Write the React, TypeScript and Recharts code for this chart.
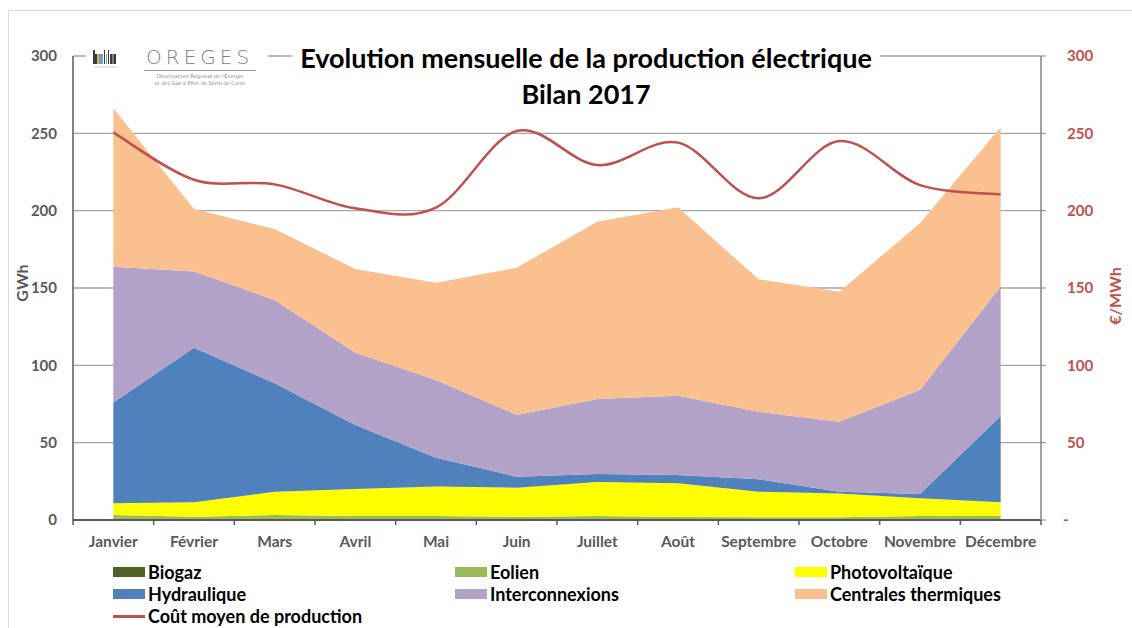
import React from "react";
import { ComposedChart, Area, Line, XAxis, YAxis, CartesianGrid, Legend } from "recharts";

// Bilan 2017 - production électrique mensuelle (GWh) et coût moyen (€/MWh)
const months = ["Janvier", "Février", "Mars", "Avril", "Mai", "Juin", "Juillet", "Août", "Septembre", "Octobre", "Novembre", "Décembre"];
const biogaz = [0.5, 0.4, 0.5, 0.5, 0.5, 0.4, 0.5, 0.4, 0.4, 0.4, 0.5, 0.5];
const eolien = [2.7, 1.7, 2.7, 2.1, 2.1, 1.6, 2.1, 1.6, 1.3, 1.3, 2.1, 2.1];
const photovoltaique = [7.6, 9.3, 15.1, 17.4, 19.0, 18.9, 22.0, 21.7, 16.6, 15.5, 11.4, 8.8];
const hydraulique = [65.1, 100, 70.1, 41.4, 18.7, 7.1, 5.1, 5.4, 8.0, 1.1, 2.8, 55.8];
const interconnexions = [87.9, 49.2, 53.8, 46.8, 50.2, 39.9, 48.5, 51.3, 43.7, 45.3, 67.2, 83.7];
const thermiques = [102.4, 40.4, 45.9, 54.1, 62.9, 95.2, 114.7, 121.8, 85.6, 84, 107.8, 103];
const coutMoyen = [250.6, 220, 217, 201.5, 202, 251.5, 229.5, 244, 208, 245, 216.5, 210.5];
const yTicks = [0, 50, 100, 150, 200, 250, 300];

const areaKeys = ["biogaz", "eolien", "pv", "hydro", "interco", "thermique"];
const areaNames = ["Biogaz", "Eolien", "Photovoltaïque", "Hydraulique", "Interconnexions", "Centrales thermiques"];
const areaColors = ["#4f6228", "#9bbb59", "#ffff00", "#4f81bd", "#b2a2c7", "#fac090"];
const costName = "Coût moyen de production";
const costColor = "#c0504d";

const data = months.map((m, i) => ({
  month: m,
  biogaz: biogaz[i],
  eolien: eolien[i],
  pv: photovoltaique[i],
  hydro: hydraulique[i],
  interco: interconnexions[i],
  thermique: thermiques[i],
  cost: coutMoyen[i],
}));

const W = 1132;
const H = 628;
const PLOT_LEFT = 73;
const PLOT_RIGHT = 1041;
const PLOT_BOTTOM = 520;
const BAND = (PLOT_RIGHT - PLOT_LEFT) / months.length;
const FONT = "Lato, 'Open Sans', sans-serif";
const GREY = "#595959";

// Excel-like smoothed line (Catmull-Rom through the points)
const smoothCurve = (ctx: any) => {
  let pts: number[][] = [];
  return {
    areaStart() {},
    areaEnd() {},
    lineStart() {
      pts = [];
    },
    point(x: number, y: number) {
      pts.push([+x, +y]);
    },
    lineEnd() {
      if (!pts.length) return;
      ctx.moveTo(pts[0][0], pts[0][1]);
      for (let i = 0; i < pts.length - 1; i++) {
        const p0 = pts[Math.max(i - 1, 0)];
        const p1 = pts[i];
        const p2 = pts[i + 1];
        const p3 = pts[Math.min(i + 2, pts.length - 1)];
        ctx.bezierCurveTo(
          p1[0] + (p2[0] - p0[0]) / 6,
          p1[1] + (p2[1] - p0[1]) / 6,
          p2[0] - (p3[0] - p1[0]) / 6,
          p2[1] - (p3[1] - p1[1]) / 6,
          p2[0],
          p2[1]
        );
      }
    },
  };
};

const MonthTick = (props: any) => {
  const { x, payload, index } = props;
  const half = BAND / 2;
  return (
    <g>
      <line x1={x - half} x2={x - half} y1={PLOT_BOTTOM} y2={PLOT_BOTTOM + 5} stroke={GREY} strokeWidth={1.5} />
      {index === months.length - 1 && (
        <line x1={x + half} x2={x + half} y1={PLOT_BOTTOM} y2={PLOT_BOTTOM + 5} stroke={GREY} strokeWidth={1.5} />
      )}
      <text x={x} y={PLOT_BOTTOM + 27} textAnchor="middle" fill={GREY} fontSize={15.5} fontWeight="bold" fontFamily={FONT}>
        {payload.value}
      </text>
    </g>
  );
};

const RightTick = (props: any) => {
  const { x, y, payload } = props;
  const zero = payload.value === 0;
  return (
    <text x={zero ? x - 4 : x} y={y} dy="0.355em" textAnchor="start" fill={costColor} fontSize={15} fontWeight="bold" fontFamily={FONT}>
      {zero ? "-" : payload.value}
    </text>
  );
};

const LegendBox = () => {
  const items = [...areaNames.map((n, i) => ({ name: n, color: areaColors[i], line: false })), { name: costName, color: costColor, line: true }];
  const cols = [113, 455, 795];
  return (
    <div style={{ position: "relative", width: W, height: 68, fontFamily: FONT }}>
      {items.map((it, i) => {
        const cy = 12 + Math.floor(i / 3) * 22;
        const left = cols[i % 3];
        return (
          <div key={it.name}>
            {it.line ? (
              <div style={{ position: "absolute", left, top: cy - 1, width: 32, height: 2.5, background: it.color }} />
            ) : (
              <div style={{ position: "absolute", left, top: cy - 5, width: 32, height: 10, background: it.color }} />
            )}
            <div
              style={{
                position: "absolute",
                left: left + 35,
                top: cy - 11,
                lineHeight: "22px",
                fontSize: 18,
                fontWeight: "bold",
                color: "#000",
                whiteSpace: "nowrap",
              }}
            >
              {it.name}
            </div>
          </div>
        );
      })}
    </div>
  );
};

const logoBars = [
  ["#3a3a3a", 14],
  ["#3a3a3a", 10],
  ["#b8c441", 10],
  ["#9c86c2", 10],
  ["#62a9cf", 10],
  ["#3a3a3a", 14],
  ["#9a9a9a", 10],
  ["#3a3a3a", 14],
  ["#3a3a3a", 10],
  ["#7d7d7d", 10],
  ["#3a3a3a", 10],
];

const Logo = () => (
  <div style={{ position: "absolute", left: 86, top: 44, width: 182, height: 48, background: "#fff" }}>
    {logoBars.map(([c, h], i) => (
      <div
        key={i}
        style={{ position: "absolute", left: 7 + i * 2.1, top: 20 - (h as number), width: 1.8, height: h as number, background: c as string }}
      />
    ))}
    <div style={{ position: "absolute", left: 8, top: 22, width: 24, height: 2, background: "#e8e8e8" }} />
    <div
      style={{
        position: "absolute",
        left: 60,
        top: 2,
        fontFamily: "'DejaVu Sans', sans-serif",
        fontWeight: 200,
        fontSize: 20,
        letterSpacing: 4,
        color: "#808080",
        lineHeight: "22px",
      }}
    >
      OREGES
    </div>
    <div style={{ position: "absolute", left: 58, top: 26, width: 112, height: 1, background: "#9a9a9a" }} />
    <div
      style={{
        position: "absolute",
        left: 58,
        top: 29,
        width: 112,
        textAlign: "center",
        fontFamily: "'DejaVu Sans', sans-serif",
        fontSize: 5,
        lineHeight: "7px",
        color: "#8a8a8a",
      }}
    >
      Observatoire Régional de l'Énergie
      <br />
      et des Gaz à Effet de Serre de Corse
    </div>
  </div>
);

export default function App() {
  return (
    <div style={{ position: "relative", width: W, height: H, overflow: "hidden", background: "#fff", fontFamily: FONT }}>
      <style>{"body{margin:0;overflow:hidden}"}</style>
      <div style={{ position: "absolute", left: 8, top: 10, width: W, height: H, borderTop: "1px solid #d9d9d9", borderLeft: "1px solid #d9d9d9" }} />
      <div style={{ position: "absolute", left: 0, top: 0 }}>
        <ComposedChart width={W} height={H} data={data} margin={{ top: 56, right: 6, left: 13, bottom: 4 }}>
          <CartesianGrid vertical={false} stroke="#a6a6a6" strokeWidth={1.3} yAxisId="left" />
          <XAxis
            dataKey="month"
            padding={{ left: BAND / 2, right: BAND / 2 }}
            height={36}
            tickLine={false}
            axisLine={{ stroke: GREY, strokeWidth: 2 }}
            tick={<MonthTick />}
            interval={0}
          />
          <YAxis
            yAxisId="left"
            width={60}
            domain={[0, 300]}
            ticks={yTicks}
            tickLine={false}
            tickSize={6}
            tickMargin={10}
            axisLine={{ stroke: GREY, strokeWidth: 1.5 }}
            tick={{ fill: GREY, fontSize: 15, fontWeight: "bold", fontFamily: FONT }}
            label={({ viewBox }: any) => (
              <text
                x={viewBox.x + 8}
                y={viewBox.y + viewBox.height / 2 - 5}
                transform={`rotate(-90 ${viewBox.x + 8} ${viewBox.y + viewBox.height / 2 - 5})`}
                textAnchor="middle"
                dominantBaseline="central"
                fill={GREY}
                fontSize={16}
                fontWeight="bold"
                fontFamily={FONT}
              >
                GWh
              </text>
            )}
          />
          <YAxis
            yAxisId="right"
            orientation="right"
            width={85}
            domain={[0, 300]}
            ticks={yTicks}
            tickSize={5}
            tickMargin={21}
            tickLine={{ stroke: "#868686" }}
            axisLine={{ stroke: "#868686", strokeWidth: 1.5 }}
            tick={<RightTick />}
            label={({ viewBox }: any) => (
              <text
                x={viewBox.x + 73}
                y={viewBox.y + viewBox.height / 2 + 8}
                transform={`rotate(-90 ${viewBox.x + 73} ${viewBox.y + viewBox.height / 2 + 8})`}
                textAnchor="middle"
                dominantBaseline="central"
                fill={costColor}
                fontSize={16}
                fontWeight="bold"
                fontFamily={FONT}
              >
                €/MWh
              </text>
            )}
          />
          {areaKeys.map((k, i) => (
            <Area
              key={k}
              yAxisId="left"
              dataKey={k}
              name={areaNames[i]}
              stackId="prod"
              type="linear"
              stroke="none"
              fill={areaColors[i]}
              fillOpacity={1}
              isAnimationActive={false}
            />
          ))}
          <Line
            yAxisId="right"
            dataKey="cost"
            name={costName}
            type={smoothCurve as any}
            stroke={costColor}
            strokeWidth={2.5}
            dot={false}
            isAnimationActive={false}
          />
          <Legend verticalAlign="bottom" height={68} wrapperStyle={{ left: 0, top: 560, width: W, height: 68 }} content={() => <LegendBox />} />
        </ComposedChart>
      </div>
      <Logo />
      <div
        style={{
          position: "absolute",
          left: 292,
          top: 43,
          width: 588,
          textAlign: "center",
          background: "#fff",
          fontSize: 27,
          fontWeight: "bold",
          color: "#000",
          lineHeight: "30px",
        }}
      >
        Evolution mensuelle de la production électrique
      </div>
      <div
        style={{
          position: "absolute",
          left: 292,
          top: 79,
          width: 588,
          textAlign: "center",
          fontSize: 27,
          fontWeight: "bold",
          color: "#000",
          lineHeight: "30px",
        }}
      >
        Bilan 2017
      </div>
    </div>
  );
}
